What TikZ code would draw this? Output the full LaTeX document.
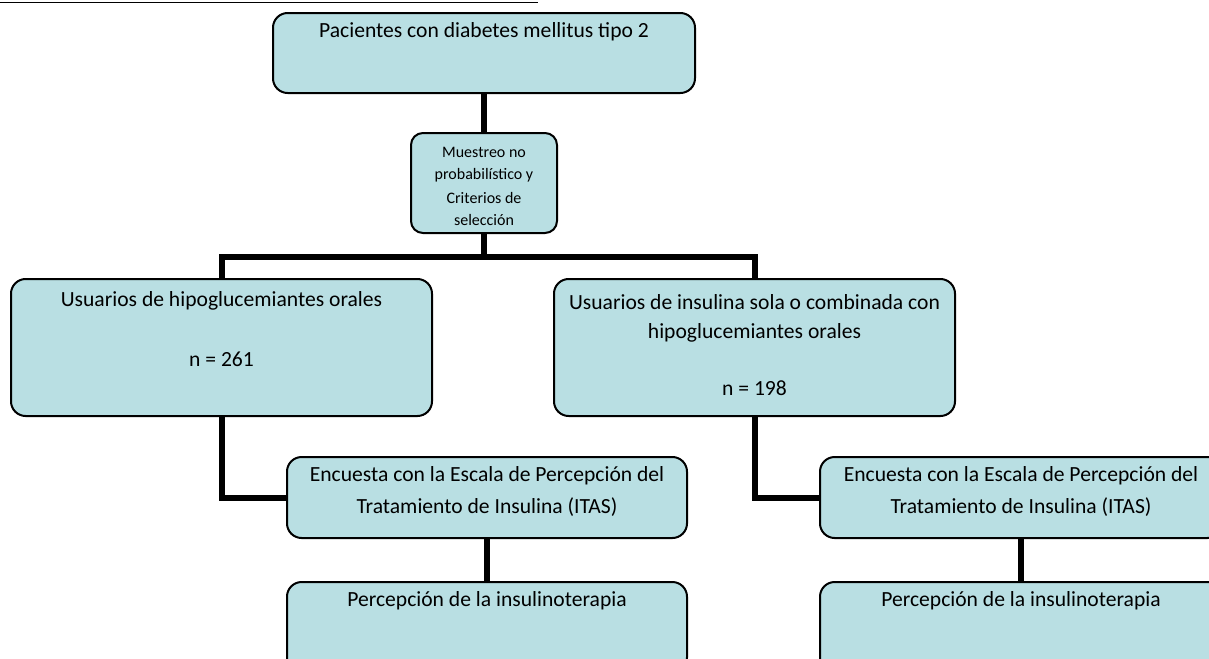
\documentclass[tikz,border=0pt]{standalone}
\usepackage{fontspec}
\setmainfont{Carlito}
\usetikzlibrary{fit}
\definecolor{boxfill}{RGB}{185,223,227}
\begin{document}
\begin{tikzpicture}[x=0.75pt,y=-0.75pt,
  box/.style={draw=black, line width=1.5pt, fill=boxfill, rounded corners=11pt, inner sep=0pt},
  conn/.style={draw=black, line width=4.5pt, line join=miter},
  lbl/.style={font=\fontsize{16.2}{19}\selectfont, inner sep=0pt, anchor=center},
  sml/.style={font=\fontsize{12}{14}\selectfont, inner sep=0pt, anchor=center}]
\useasboundingbox (0,0) rectangle (1209,658);
\clip (0,0) rectangle (1209,658);
% top rule
\coordinate (ra) at (0,2.5);
\coordinate (rb) at (538,2.5);
\draw[line width=0.9pt] (ra) -- (rb);
% boxes
\node[box, fit={(273,13) (695,93)}] (top) {};
\node[box, rounded corners=9pt, fit={(411,133) (557,233)}] (samp) {};
\node[box, fit={(11,279) (432,416)}] (left) {};
\node[box, fit={(554,279) (955,416)}] (right) {};
\node[box, fit={(287,457) (687,538)}] (itasL) {};
\node[box, fit={(820,457) (1222,538)}] (itasR) {};
\node[box, fit={(287,582) (687,672)}] (percL) {};
\node[box, fit={(820,582) (1222,672)}] (percR) {};
% connectors
\coordinate (bar) at (484,257);
\draw[conn] (top.south) -- (samp.north);
\draw[conn] (samp.south) -- (bar);
\draw[conn] (left.north) -- (left.north |- bar) -- (right.north |- bar) -- (right.north);
\draw[conn] (left.south) |- (itasL.west);
\draw[conn] (right.south) |- (itasR.west);
\draw[conn] (itasL.south) -- (percL.north);
\draw[conn] (itasR.south) -- (percR.north);
% texts
\node[lbl] (t1) at (484,32) {Pacientes con diabetes mellitus tipo 2};
\node[sml] (s1) at (484,152) {Muestreo no};
\node[sml] (s2) at (484,175) {probabilístico y};
\node[sml] (s3) at (484,198) {Criterios de};
\node[sml] (s4) at (484,220) {selección};
\node[lbl] (l1) at (221.5,301) {Usuarios de hipoglucemiantes orales};
\node[lbl] (l2) at (221.5,359) {n = 261};
\node[lbl] (r1) at (754.5,302) {Usuarios de insulina sola o combinada con};
\node[lbl] (r2) at (754.5,333) {hipoglucemiantes orales};
\node[lbl] (r3) at (754.5,388) {n = 198};
\node[lbl] (il1) at (487,476) {Encuesta con la Escala de Percepción del};
\node[lbl] (il2) at (487,507) {Tratamiento de Insulina (ITAS)};
\node[lbl] (ir1) at (1021,476) {Encuesta con la Escala de Percepción del};
\node[lbl] (ir2) at (1021,507) {Tratamiento de Insulina (ITAS)};
\node[lbl] (pl) at (487,601) {Percepción de la insulinoterapia};
\node[lbl] (pr) at (1021,601) {Percepción de la insulinoterapia};
\end{tikzpicture}
\end{document}
